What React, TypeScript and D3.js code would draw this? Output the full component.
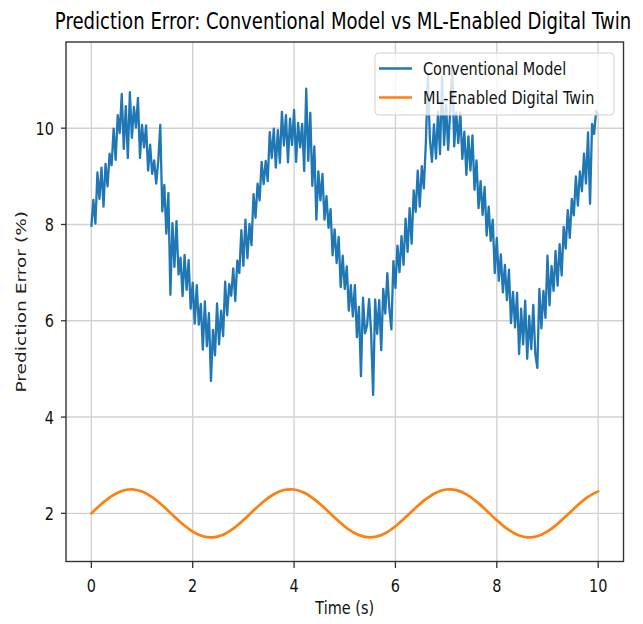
import * as d3 from "d3";

// readings
const xTicks = [0, 2, 4, 6, 8, 10];
const yTicks = [2, 4, 6, 8, 10];

// conventional model: one sample every 0.04 s from 0 to 10
const conventional = [
  7.95, 8.51, 8.02, 9.08, 8.53, 9.18, 8.37, 9.26, 8.79, 9.47,
  9.23, 9.99, 9.34, 10.27, 9.9, 10.71, 9.57, 10.46, 9.38, 10.75,
  9.8, 10.44, 10.01, 10.63, 9.38, 10.07, 9.6, 10.06, 9.12, 9.66,
  9.05, 9.33, 8.85, 9.31, 10.07, 8.27, 8.82, 7.81, 8.65, 6.54,
  8.03, 7.12, 8.07, 6.96, 7.31, 6.51, 7.37, 6.64, 7.26, 6.25,
  6.79, 5.94, 6.74, 5.92, 6.35, 5.4, 6.4, 5.47, 6.16, 4.75,
  5.81, 5.28, 6.36, 5.51, 6.21, 5.68, 6.81, 6.11, 6.76, 6.52,
  7.09, 6.41, 7.25, 6.99, 7.88, 7.14, 8.1, 7.3, 8.01, 7.57,
  8.63, 8.14, 8.85, 8.5, 9.3, 8.84, 9.32, 8.9, 9.92, 9.38,
  9.99, 9.18, 9.96, 9.28, 10.34, 9.64, 10.27, 9.29, 10.2, 9.65,
  10.38, 9.3, 10.11, 9.6, 10.09, 9.11, 10.82, 9.32, 10.32, 8.8,
  9.62, 8.1, 9.1, 8.5, 9.05, 8.1, 8.59, 7.93, 8.32, 7.36,
  7.9, 7.2, 7.74, 6.7, 7.35, 6.66, 7.13, 6.21, 6.74, 6.09,
  6.74, 5.66, 6.29, 4.85, 6.48, 5.74, 5.9, 6.45, 5.75, 4.46,
  6.44, 5.73, 6.43, 5.39, 6.66, 6.15, 6.99, 6.25, 5.82, 7.24,
  6.68, 7.56, 7.01, 7.76, 7.16, 8.12, 7.43, 8.34, 7.6, 8.71,
  8.26, 9.12, 8.37, 9.21, 8.75, 9.68, 11.1, 9.77, 9.3, 10.08,
  9.37, 10.34, 9.46, 11.06, 9.65, 10.48, 9.55, 10.35, 11.29, 9.62,
  10.33, 9.69, 10.33, 9.36, 9.93, 9.03, 9.83, 9.12, 9.85, 8.72,
  9.33, 8.34, 8.9, 8.2, 8.78, 7.77, 8.37, 7.66, 8.1, 6.99,
  7.72, 6.83, 7.38, 6.59, 7.16, 6.43, 7.06, 5.95, 6.6, 5.86,
  6.58, 5.31, 6.25, 5.51, 6.42, 5.21, 6.1, 5.41, 6.33, 5.31,
  5.02, 6.66, 5.84, 6.62, 6.06, 7.35, 6.32, 7.14, 6.62, 7.45,
  6.73, 7.59, 6.94, 7.95, 7.5, 8.3, 7.72, 8.53, 8.19, 9.0,
  8.39, 9.1, 8.69, 9.47, 8.85, 9.91, 8.43, 10.09, 9.88, 10.36,
  10.28,
];
const conventionalTime = d3.range(conventional.length).map((i) => i * 0.04);

// ML-enabled digital twin: one sample every 0.2 s from 0 to 10
const twin = [
  2.0, 2.195, 2.359, 2.466, 2.5, 2.455, 2.338, 2.167, 1.971, 1.779,
  1.622, 1.524, 1.502, 1.558, 1.684, 1.86, 2.058, 2.247, 2.397, 2.484,
  2.495, 2.427, 2.292, 2.112, 1.913, 1.728, 1.586, 1.51, 1.51, 1.588,
  1.732, 1.917, 2.116, 2.296, 2.43, 2.495, 2.483, 2.395, 2.244, 2.055,
  1.856, 1.681, 1.556, 1.502, 1.525, 1.625, 1.782, 1.975, 2.172, 2.341,
  2.456,
];
const twinTime = d3.range(twin.length).map((i) => i * 0.2);

const seriesNames = ["Conventional Model", "ML-Enabled Digital Twin"];
const colors = ["#1f77b4", "#ff7f0e"];

const W = 643;
const H = 624;
const margin = { top: 42, right: 19.5, bottom: 62.5, left: 66 };
// the reference is squeezed sideways, so text gets the same squeeze
const SX = 0.79;
const font = "DejaVu Sans, sans-serif";

export default function App() {
  let x = d3
    .scaleLinear()
    .domain([-0.5, 10.5])
    .range([margin.left, W - margin.right]);
  let y = d3
    .scaleLinear()
    .domain([1.0, 11.79])
    .range([H - margin.bottom, margin.top]);

  let line = d3
    .line<[number, number]>()
    .x((d) => x(d[0]))
    .y((d) => y(d[1]));

  let convPath = line(conventionalTime.map((t, i) => [t, conventional[i]]));
  let twinPath = line.curve(d3.curveCatmullRom)(
    twinTime.map((t, i) => [t, twin[i]])
  );

  let left = margin.left;
  let right = W - margin.right;
  let top = margin.top;
  let bottom = H - margin.bottom;
  let midX = (left + right) / 2;

  // legend box
  let lg = { x0: 375, y0: 53, x1: 614, y1: 115 };
  let rowY = [68.5, 97.5];

  return (
    <svg
      width={W}
      height={H}
      style={{ position: "absolute", left: 0, top: 0, background: "white" }}
      fontFamily={font}
    >
      {/* grid */}
      {xTicks.map((t) => (
        <line
          key={"gx" + t}
          x1={x(t)}
          x2={x(t)}
          y1={top}
          y2={bottom}
          stroke="#d2d2d2"
          strokeWidth={1.4}
        />
      ))}
      {yTicks.map((t) => (
        <line
          key={"gy" + t}
          x1={left}
          x2={right}
          y1={y(t)}
          y2={y(t)}
          stroke="#d2d2d2"
          strokeWidth={1.4}
        />
      ))}

      {/* lines */}
      <path
        d={convPath}
        fill="none"
        stroke={colors[0]}
        strokeWidth={2.3}
        strokeLinejoin="round"
      />
      <path
        d={twinPath}
        fill="none"
        stroke={colors[1]}
        strokeWidth={2.7}
        strokeLinecap="round"
      />

      {/* frame */}
      <rect
        x={left}
        y={top}
        width={right - left}
        height={bottom - top}
        fill="none"
        stroke="#333"
        strokeWidth={1.4}
      />

      {/* x axis */}
      {xTicks.map((t) => (
        <g key={"tx" + t}>
          <line x1={x(t)} x2={x(t)} y1={bottom} y2={bottom + 6.5} stroke="#333" strokeWidth={1.3} />
          <text
            transform={`translate(${x(t)},${bottom + 30.5}) scale(${SX},1)`}
            textAnchor="middle"
            fontSize={18.3}
            fill="#111"
          >
            {t}
          </text>
        </g>
      ))}
      <text
        transform={`translate(${midX},${614}) scale(${SX},1)`}
        textAnchor="middle"
        fontSize={18.3}
        fill="#111"
      >
        Time (s)
      </text>

      {/* y axis */}
      {yTicks.map((t) => (
        <g key={"ty" + t}>
          <line x1={left - 5} x2={left} y1={y(t)} y2={y(t)} stroke="#333" strokeWidth={1.3} />
          <text
            transform={`translate(${left - 12},${y(t) + 6.6}) scale(${SX},1)`}
            textAnchor="end"
            fontSize={18.3}
            fill="#111"
          >
            {t}
          </text>
        </g>
      ))}
      <text
        transform={`translate(26,${(top + bottom) / 2}) rotate(-90) scale(1,${SX})`}
        textAnchor="middle"
        fontSize={18.6}
        fill="#222"
      >
        Prediction Error (%)
      </text>

      {/* title */}
      <text
        transform={`translate(${343},${29.3}) scale(${SX},1)`}
        textAnchor="middle"
        fontSize={22.9}
        fill="#000"
      >
        Prediction Error: Conventional Model vs ML-Enabled Digital Twin
      </text>

      {/* legend */}
      <rect
        x={lg.x0}
        y={lg.y0}
        width={lg.x1 - lg.x0}
        height={lg.y1 - lg.y0}
        rx={4}
        fill="white"
        fillOpacity={0.8}
        stroke="#d0d0d0"
        strokeWidth={1}
      />
      {seriesNames.map((name, i) => (
        <g key={name}>
          <line
            x1={379}
            x2={412}
            y1={rowY[i]}
            y2={rowY[i]}
            stroke={colors[i]}
            strokeWidth={i === 0 ? 2.4 : 2.7}
          />
          <text
            transform={`translate(423,${rowY[i] + 6.6}) scale(${SX},1)`}
            fontSize={18.3}
            fill="#111"
          >
            {name}
          </text>
        </g>
      ))}
    </svg>
  );
}
